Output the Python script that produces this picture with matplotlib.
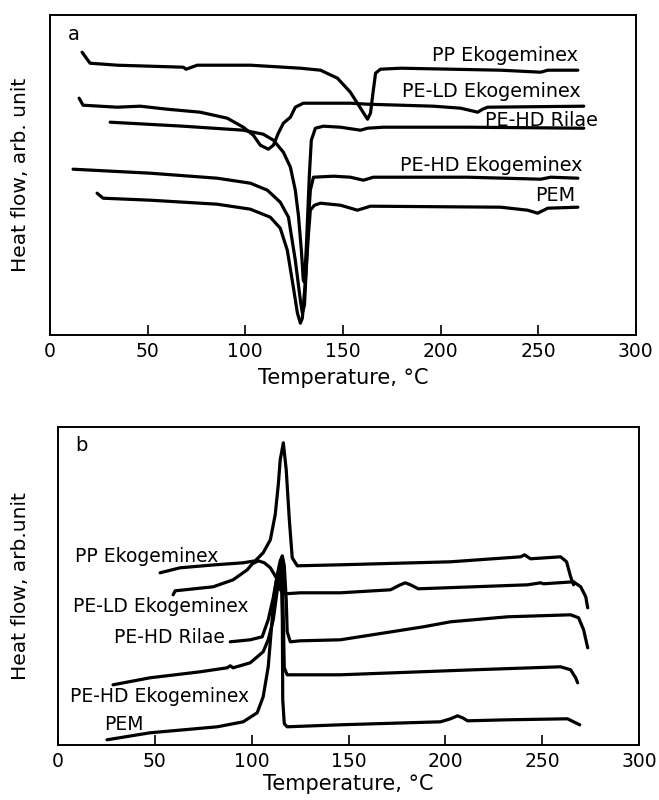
import matplotlib
matplotlib.use('Agg')
import matplotlib.pyplot as plt

# ---- panel a (heating) : temperature in degC, heat flow in arb. units ----
pp_a_t = [16.4, 20.5, 34.4, 68.2, 69.7, 75.4, 102.6, 128.2, 138.5, 147.2, 153.8, 159.0, 162.6,
          164.1, 165.1, 166.7, 169.2, 179.5, 230.8, 251.3, 254.9, 270.3]
pp_a_v = [283, 272, 270, 268, 266, 270, 270, 267, 265, 257, 243, 227, 216,
          222, 238, 262, 266, 267, 265, 263, 265, 265]

ld_a_t = [14.9, 16.9, 34.4, 46.2, 60.0, 76.9, 90.8, 99.0, 104.1, 107.7, 111.8, 114.4, 116.9,
          119.5, 123.1, 125.6, 129.7, 153.8, 162.6, 196.4, 210.3, 219.0, 221.5, 224.1, 273.3]
ld_a_v = [237, 230, 228, 229, 226, 223, 217, 208, 200, 190, 186, 190, 202,
          212, 218, 228, 232, 232, 231, 229, 227, 223, 226, 228, 229]

rl_a_t = [30.8, 68.2, 99.0, 109.2, 114.4, 119.5, 123.1, 125.6, 127.2, 128.7, 129.7, 130.3,
          131.3, 132.8, 133.8, 135.9, 140.0, 148.7, 159.0, 162.6, 170.8, 213.8, 273.3]
rl_a_v = [213, 209, 205, 201, 195, 183, 168, 145, 120, 85, 55, 53,
          90, 160, 195, 207, 209, 208, 205, 207, 208, 208, 207]

hd_a_t = [11.8, 51.3, 85.6, 102.6, 111.3, 117.9, 122.1, 125.6, 128.2, 129.2, 130.3, 131.3,
          132.3, 133.3, 134.9, 145.1, 153.8, 160.5, 165.6, 213.8, 251.3, 256.4, 270.3]
hd_a_v = [166, 162, 157, 152, 145, 133, 118, 75, 35, 22, 30, 70,
          115, 145, 158, 159, 158, 155, 158, 158, 156, 158, 157]

pem_a_t = [24.1, 27.2, 51.3, 85.6, 102.6, 112.8, 117.9, 121.5, 124.6, 126.7, 128.2, 129.2,
           130.8, 132.3, 133.3, 135.4, 138.5, 148.7, 157.4, 164.1, 230.8, 244.6, 249.7, 254.9, 270.3]
pem_a_v = [142, 137, 135, 131, 126, 118, 107, 85, 48, 22, 12, 17,
           55, 100, 125, 130, 132, 130, 125, 129, 128, 125, 122, 127, 128]

# ---- panel b (cooling) ----
pp_b_t = [52.7, 63.0, 81.1, 95.6, 101.8, 105.9, 109.6, 112.1, 113.7, 114.7, 116.3, 117.8,
          119.4, 120.9, 123.5, 145.7, 202.6, 238.8, 240.8, 243.9, 259.4, 262.5, 264.6, 266.1]
pp_b_v = [172, 177, 180, 182, 184, 192, 205, 230, 260, 285, 302, 275,
          225, 187, 179, 180, 183, 188, 190, 186, 188, 183, 168, 160]

ld_b_t = [59.4, 60.5, 80.1, 90.4, 97.7, 100.3, 103.4, 106.5, 109.6, 112.7, 114.7, 117.3, 125.1,
          145.7, 171.6, 176.7, 179.3, 181.9, 186.0, 214.5, 242.4, 249.1, 250.6, 266.1, 269.8,
          272.4, 273.4]
ld_b_v = [150, 154, 158, 165, 175, 181, 184, 182, 177, 167, 155, 151, 152,
          152, 155, 160, 162, 160, 156, 158, 160, 162, 161, 163, 158,
          148, 137]

rl_b_t = [88.9, 99.2, 105.4, 108.5, 111.1, 113.2, 114.7, 115.8, 116.8, 117.8, 118.3, 119.9,
          125.1, 145.7, 188.6, 202.6, 232.0, 264.6, 268.7, 271.3, 273.4]
rl_b_v = [103, 105, 108, 125, 147, 170, 184, 189, 179, 145, 113, 103,
          104, 105, 118, 123, 128, 130, 127, 115, 97]

hd_b_t = [28.4, 47.5, 73.4, 87.3, 88.9, 90.4, 99.2, 105.9, 108.5, 111.1, 113.2, 114.7, 115.2,
          115.8, 116.3, 116.8, 118.3, 145.7, 214.5, 259.4, 264.6, 267.2, 268.2]
hd_b_v = [60, 67, 73, 77, 79, 77, 82, 93, 105, 125, 155, 178, 183,
          170, 125, 77, 70, 70, 75, 78, 75, 67, 62]

pem_b_t = [25.3, 47.5, 82.2, 95.6, 102.8, 105.9, 108.5, 110.1, 111.6, 113.2, 114.7, 115.2,
           115.8, 116.0, 116.8, 118.3, 145.7, 197.4, 202.6, 206.2, 208.8, 211.4, 232.0, 263.0,
           266.1, 269.3]
pem_b_v = [5, 12, 18, 23, 32, 48, 78, 115, 150, 170, 179, 175,
           125, 45, 21, 18, 20, 23, 26, 29, 27, 24, 25, 26,
           23, 20]

names = ['PP Ekogeminex', 'PE-LD Ekogeminex', 'PE-HD Rilae', 'PE-HD Ekogeminex', 'PEM']
xticks = [0, 50, 100, 150, 200, 250, 300]

FONT = dict(family='DejaVu Sans')
LW = 2.3

fig = plt.figure(figsize=(6.59, 8), dpi=100)
ax_a = fig.add_axes([0.0759, 0.581, 0.889, 0.400])
ax_b = fig.add_axes([0.088, 0.069, 0.882, 0.3975])

curves_a = [(pp_a_t, pp_a_v), (ld_a_t, ld_a_v), (rl_a_t, rl_a_v), (hd_a_t, hd_a_v), (pem_a_t, pem_a_v)]
curves_b = [(pp_b_t, pp_b_v), (ld_b_t, ld_b_v), (rl_b_t, rl_b_v), (hd_b_t, hd_b_v), (pem_b_t, pem_b_v)]

for ax, curves in [(ax_a, curves_a), (ax_b, curves_b)]:
    for t, v in curves:
        ax.plot(t, v, color='black', lw=LW, solid_joinstyle='round', solid_capstyle='round')
    ax.set_xlim(0, 300)
    ax.set_xticks(xticks)
    ax.set_yticks([])
    ax.tick_params(axis='x', direction='in', length=7, width=1.2, pad=5, labelsize=13.5)
    for s in ax.spines.values():
        s.set_linewidth(1.4)
    ax.set_xlabel('Temperature, °C', fontsize=15, va='center', **FONT)

ax_a.set_ylim(0, 320)
ax_b.set_ylim(0, 318)
ax_a.xaxis.set_label_coords(0.5, -0.134)
ax_b.xaxis.set_label_coords(0.5, -0.123)
ax_a.set_ylabel('Heat flow, arb. unit', fontsize=14.5, va='center', **FONT)
ax_b.set_ylabel('Heat flow, arb.unit', fontsize=14.5, va='center', **FONT)
ax_a.yaxis.set_label_coords(-0.051, 0.5)
ax_b.yaxis.set_label_coords(-0.065, 0.5)

ax_a.text(0.03, 0.94, 'a', transform=ax_a.transAxes, fontsize=14, va='center', **FONT)
ax_b.text(0.03, 0.94, 'b', transform=ax_b.transAxes, fontsize=14, va='center', **FONT)

# curve labels
pos_a = [(270.3, 280), (271.8, 244), (280.5, 215), (272.8, 170), (269.2, 140)]
for name, (x, y) in zip(names, pos_a):
    ax_a.text(x, y, name, ha='right', va='center', fontsize=13.8, **FONT)

pos_b = [(8.8, 188), (7.8, 138), (28.9, 107), (6.2, 48), (23.8, 20)]
for name, (x, y) in zip(names, pos_b):
    ax_b.text(x, y, name, ha='left', va='center', fontsize=13.5, **FONT)

fig.savefig('out.png', dpi=100)
